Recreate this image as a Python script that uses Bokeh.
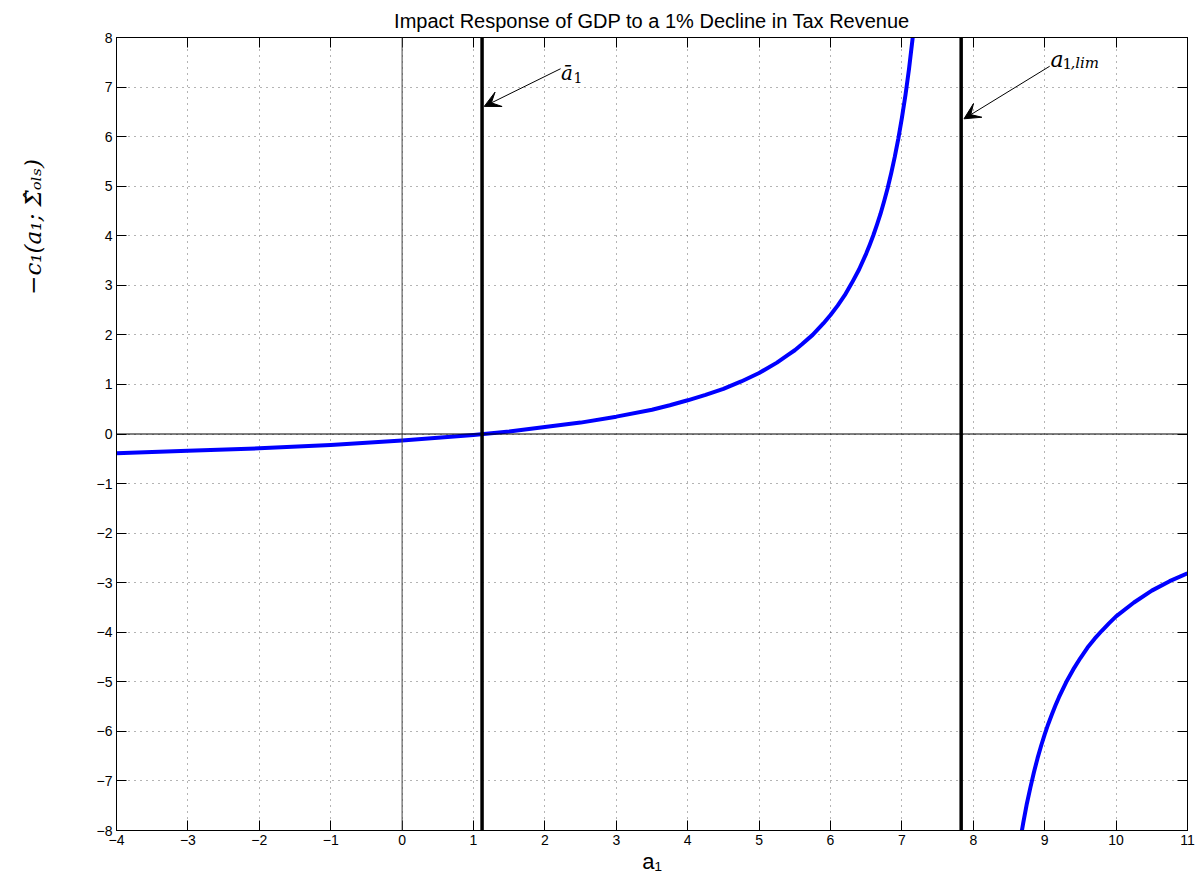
from bokeh.plotting import figure
from bokeh.models import (Range1d, FixedTicker, LinearAxis, Span, Label, Arrow,
                          VeeHead, CustomJSTickFormatter)
from bokeh.embed import file_html
from bokeh.resources import INLINE

# ---------------- data ----------------
left_a = [-4, -3, -2, -1, 0, 1, 1.5, 2, 2.5, 3, 3.5, 3.75, 4, 4.25, 4.5, 4.75, 5,
          5.25, 5.4, 5.5, 5.6, 5.75, 5.9, 6, 6.1, 6.2, 6.3, 6.4, 6.5, 6.55, 6.6,
          6.65, 6.7, 6.75, 6.8, 6.85, 6.9, 6.95, 7.0, 7.05, 7.1, 7.15, 7.2]
left_c = [-0.39, -0.34, -0.29, -0.22, -0.13, -0.02, 0.05, 0.14, 0.23, 0.35, 0.49,
          0.58, 0.68, 0.79, 0.91, 1.06, 1.23, 1.44, 1.59, 1.69, 1.81, 2.00, 2.23,
          2.40, 2.59, 2.80, 3.05, 3.32, 3.64, 3.82, 4.01, 4.22, 4.44, 4.69, 4.96,
          5.26, 5.59, 5.96, 6.38, 6.84, 7.37, 7.98, 8.69]
right_a = [8.65, 8.7, 8.75, 8.8, 8.85, 8.9, 8.95, 9.0, 9.05, 9.1, 9.15, 9.2, 9.3,
           9.4, 9.5, 9.6, 9.7, 9.8, 9.9, 10.0, 10.25, 10.5, 10.75, 11.0]
right_c = [-8.26, -7.84, -7.46, -7.13, -6.82, -6.54, -6.29, -6.06, -5.85, -5.66,
           -5.48, -5.31, -5.01, -4.75, -4.52, -4.31, -4.13, -3.97, -3.82, -3.68,
           -3.40, -3.16, -2.97, -2.81]
a_bar = 1.12
a_lim = 7.83

x_ticks = list(range(-4, 12))
x_tick_labels = [str(t).replace("-", "\u2212") for t in x_ticks]
y_ticks = list(range(-8, 9))
y_tick_labels = [str(t).replace("-", "\u2212") for t in y_ticks]

title_text = "Impact Response of GDP to a 1% Decline in Tax Revenue"
x_label = "a\u2081"
y_label = "\u2212c\u2081(a\u2081; \u03a3\u0302\u2092\u2097\u209b)"

# ---------------- figure ----------------
p = figure(width=1200, height=880, output_backend="svg", toolbar_location=None,
           x_range=Range1d(-4, 11), y_range=Range1d(-8, 8),
           min_border_left=116, min_border_right=13, min_border_top=37,
           min_border_bottom=50, x_axis_location=None, y_axis_location=None)
p.background_fill_color = "white"
p.border_fill_color = "white"
p.outline_line_color = "black"
p.outline_line_width = 1

SANS = "Liberation Sans"
SERIF = "DejaVu Serif"

p.title.text = title_text
p.title.align = "center"
p.title.text_font = SANS
p.title.text_font_size = "20px"
p.title.text_font_style = "normal"
p.title.text_color = "black"
p.title.standoff = 12
p.title.offset = 0

def style_axis(ax, ticks, labels, show_labels):
    ax.ticker = FixedTicker(ticks=ticks)
    ax.major_tick_in = 10
    ax.major_tick_out = 0
    ax.minor_tick_in = 0
    ax.minor_tick_out = 0
    ax.axis_line_color = "black"
    ax.major_tick_line_color = "black"
    ax.major_label_text_font = SANS
    ax.major_label_text_color = "black"
    ax.major_label_standoff = 4
    if show_labels:
        ax.major_label_overrides = {t: l for t, l in zip(ticks, labels)}
        ax.major_label_text_font_size = "14px"
    else:
        ax.formatter = CustomJSTickFormatter(code="return ''")
        ax.major_label_standoff = 0

xb = LinearAxis(); style_axis(xb, x_ticks, x_tick_labels, True)
xb.axis_label = x_label
xb.axis_label_text_font = SANS
xb.axis_label_text_font_size = "22px"
xb.axis_label_text_font_style = "normal"
xb.axis_label_text_color = "black"
xb.axis_label_standoff = 1
p.add_layout(xb, "below")
xt = LinearAxis(); style_axis(xt, x_ticks, x_tick_labels, False); p.add_layout(xt, "above")
yl = LinearAxis(); style_axis(yl, y_ticks, y_tick_labels, True)
# leading em-spaces move the (rotated) label up along the axis, as in the reference
yl.axis_label = "\u2003" * 18 + y_label
yl.axis_label_text_font = SERIF
yl.axis_label_text_font_size = "23px"
yl.axis_label_text_font_style = "italic"
yl.axis_label_text_color = "black"
yl.axis_label_standoff = 48
p.add_layout(yl, "left")
yr = LinearAxis(); style_axis(yr, y_ticks, y_tick_labels, False); p.add_layout(yr, "right")

for g in (p.xgrid, p.ygrid):
    g.grid_line_color = "#444444"
    g.grid_line_dash = "1 5"
    g.grid_line_width = 1
    g.grid_line_alpha = 0.8
p.xgrid.ticker = FixedTicker(ticks=x_ticks)
p.ygrid.ticker = FixedTicker(ticks=y_ticks)

# zero lines
p.add_layout(Span(location=0, dimension="width", line_color="black", line_width=1))
p.add_layout(Span(location=0, dimension="height", line_color="#444444", line_width=1))

# curve
p.line(left_a, left_c, line_color="#0000ff", line_width=4, line_join="round")
p.line(right_a, right_c, line_color="#0000ff", line_width=4, line_join="round")

# vertical thick lines
p.add_layout(Span(location=a_bar, dimension="height", line_color="black", line_width=3.5))
p.add_layout(Span(location=a_lim, dimension="height", line_color="black", line_width=3.5))

# arrows
p.add_layout(Arrow(end=VeeHead(size=16, fill_color="black", line_color="black", line_width=1),
                   x_start=2.22, y_start=7.37, x_end=a_bar + 0.03, y_end=6.61,
                   line_color="black", line_width=1))
p.add_layout(Arrow(end=VeeHead(size=16, fill_color="black", line_color="black", line_width=1),
                   x_start=9.07, y_start=7.42, x_end=a_lim + 0.04, y_end=6.36,
                   line_color="black", line_width=1))

def lab(x, y, text, size, font=SERIF, style="normal"):
    p.add_layout(Label(x=x, y=y, text=text, text_font=font, text_font_size=size,
                       text_font_style=style, text_color="black",
                       text_align="left", text_baseline="alphabetic"))

# a-bar label
lab(2.224, 7.274, "\u0101", "20px", style="italic")
lab(2.40, 7.19, "1", "14px")
# a_{1,lim} label
lab(9.082, 7.556, "a", "22px", style="italic")
lab(9.25, 7.48, "1", "15px")
lab(9.36, 7.48, ",lim", "15px", style="italic")

open("out.html", "w").write(file_html(p, INLINE))
